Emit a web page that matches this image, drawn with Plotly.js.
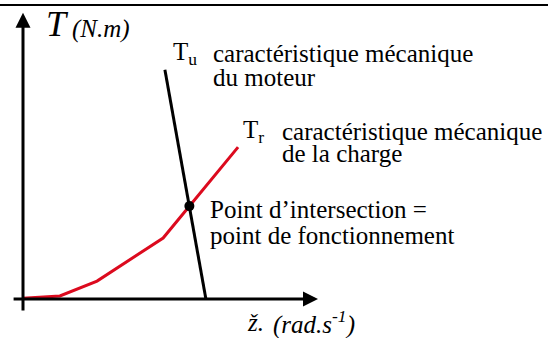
<!DOCTYPE html>
<html>
<head>
<meta charset="utf-8">
<script src="https://cdn.plot.ly/plotly-3.0.1.min.js"></script>
<style>html,body{margin:0;padding:0;background:#fff;}#chart{width:548px;height:338px;}</style>
</head>
<body>
<div id="chart"></div>
<script>
// Load characteristic (T_r) (speed, torque in arbitrary units)
const loadSpeed = [0, 12.5, 25.1, 47.5, 72.9];
const loadTorque = [0.3, 1.05, 6.3, 21.4, 53.3];
// Motor characteristic (T_u)
const motorSpeed = [48.1, 62.0];
const motorTorque = [80.4, 0];
// Operating point
const opSpeed = [56.4];
const opTorque = [32.6];
// Axis extents
const xAxisFrom = [-3.7, 0], xAxisTo = [100, 0];
const yAxisFrom = [0, -4.6], yAxisTo = [0, 100.4];

const W = 548, H = 338;
const px = v => v / W;
const py = v => 1 - v / H;
const serif = 'Liberation Serif';

function label(text, x, base, size, italic) {
  return {
    xref: 'paper', yref: 'paper', x: px(x - 2), y: py(base - 0.30 * size),
    xanchor: 'left', yanchor: 'middle', showarrow: false,
    text: italic ? '<i>' + text + '</i>' : text,
    font: {family: serif, size: size, color: '#000'}
  };
}

const traces = [
  {x: loadSpeed, y: loadTorque, mode: 'lines', line: {color: '#dc0a1e', width: 3}, hoverinfo: 'skip'},
  {x: motorSpeed, y: motorTorque, mode: 'lines', line: {color: '#000', width: 3}, hoverinfo: 'skip'},
  {x: opSpeed, y: opTorque, mode: 'markers', marker: {color: '#000', size: 10}, hoverinfo: 'skip'}
];

const annotations = [
  {x: xAxisTo[0], y: xAxisTo[1], ax: xAxisFrom[0], ay: xAxisFrom[1], xref: 'x', yref: 'y', axref: 'x', ayref: 'y',
   showarrow: true, arrowhead: 2, arrowsize: 1, arrowwidth: 3, arrowcolor: '#000', standoff: 0, text: ''},
  {x: yAxisTo[0], y: yAxisTo[1], ax: yAxisFrom[0], ay: yAxisFrom[1], xref: 'x', yref: 'y', axref: 'x', ayref: 'y',
   showarrow: true, arrowhead: 2, arrowsize: 1, arrowwidth: 3, arrowcolor: '#000', standoff: 0, text: ''},
  label('T', 46, 35, 36, true),
  label('(N.m)', 72, 36, 25, true),
  label('T<sub>u</sub>', 173, 61, 25, false),
  label('caractéristique mécanique', 213, 61, 25, false),
  label('du moteur', 213, 85, 25, false),
  label('T<sub>r</sub>', 243, 139, 25, false),
  label('caractéristique mécanique', 282, 139, 25, false),
  label('de la charge', 282, 161, 25, false),
  label('Point d’intersection =', 210, 217, 25, false),
  label('point de fonctionnement', 210, 243, 25, false),
  label('ž.', 247, 330, 25, true),
  label('(rad.s<sup>-1</sup>)', 273, 330, 25, true)
];

const layout = {
  width: W, height: H,
  margin: {l: 0, r: 0, t: 0, b: 0},
  paper_bgcolor: '#fff', plot_bgcolor: '#fff',
  showlegend: false,
  xaxis: {range: [-23 / 2.95, 525 / 2.95], visible: false, fixedrange: true},
  yaxis: {range: [-39 / 2.85, 299 / 2.85], visible: false, fixedrange: true},
  shapes: [
    {type: 'line', xref: 'paper', yref: 'paper', x0: 0, x1: 1, y0: py(5), y1: py(5), line: {color: '#000', width: 2}}
  ],
  annotations: annotations
};

Plotly.newPlot('chart', traces, layout, {displayModeBar: false, staticPlot: true});
</script>
</body>
</html>
